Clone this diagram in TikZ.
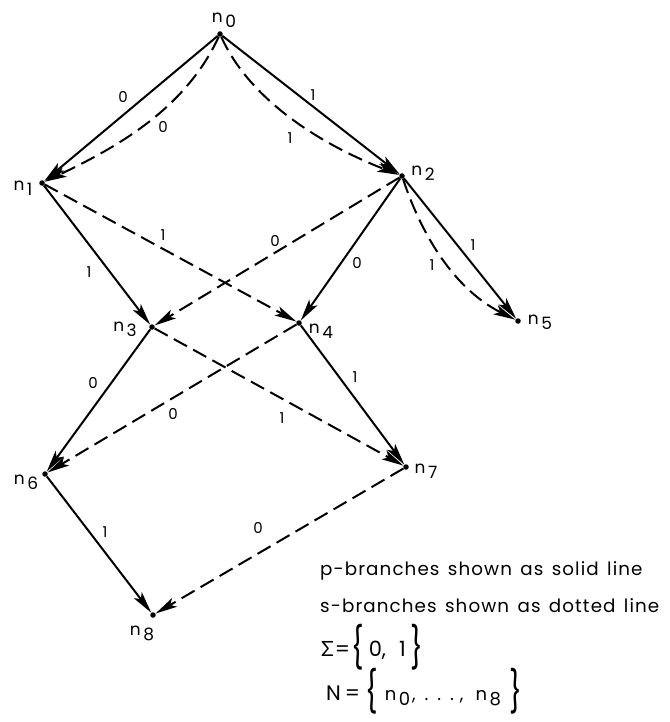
\documentclass[tikz,border=0pt]{standalone}
\usepackage{fontspec}
\setmainfont{Poppins}
\newfontfamily\grk{Lato}
\newfontfamily\widefont[LetterSpace=6,WordSpace=1.4]{Poppins}
\usetikzlibrary{arrows.meta}
\newcommand\nsub[1]{n\kern2.5pt\raisebox{-5pt}{#1}}
\newcommand\tallbrace[1]{\raisebox{-6pt}{\scalebox{1.3}[1.95]{#1}}}
\tikzset{
  dot/.style={circle,fill,inner sep=0pt,minimum size=5.5pt},
  pedge/.style={line width=2pt,-{Stealth[length=22pt,width=10pt,inset=5pt]}},
  sedge/.style={pedge,dash pattern=on 15pt off 7pt},
  lbl/.style={font=\fontsize{15}{15}\selectfont,inner sep=0pt},
  nlbl/.style={font=\fontsize{17}{17}\selectfont,inner sep=0pt},
  legend/.style={font=\widefont\fontsize{18.3}{18.3}\selectfont,inner sep=0pt,anchor=base west},
  legendm/.style={font=\fontsize{21}{21}\selectfont,inner sep=0pt,anchor=base west},
}
\begin{document}
\begin{tikzpicture}[x=1pt,y=-1pt]
\useasboundingbox (0,0) rectangle (669,722);
% nodes
\node[dot] (n0) at (220,34) {};
\node[dot] (n1) at (42,183) {};
\node[dot] (n2) at (402,176) {};
\node[dot] (n3) at (152,327) {};
\node[dot] (n4) at (299,323) {};
\node[dot] (n5) at (518,321) {};
\node[dot] (n6) at (45,474) {};
\node[dot] (n7) at (406,467) {};
\node[dot] (n8) at (153,615) {};
% node labels
\node[nlbl] (t0) at (224,20) {\nsub{0}};
\node[nlbl] (t1) at (23,188) {\nsub{1}};
\node[nlbl] (t2) at (423,173) {\nsub{2}};
\node[nlbl] (t3) at (125,329) {\nsub{3}};
\node[nlbl] (t4) at (321,331) {\nsub{4}};
\node[nlbl] (t5) at (540,322) {\nsub{5}};
\node[nlbl] (t6) at (26,482) {\nsub{6}};
\node[nlbl] (t7) at (426,471) {\nsub{7}};
\node[nlbl] (t8) at (142,633) {\nsub{8}};
% p-branches (solid)
\draw[pedge] (n0) -- (n1);
\draw[pedge] (n0) -- (n2);
\draw[pedge] (n2) -- (n5);
\draw[pedge] (n1) -- (n3);
\draw[pedge] (n2) -- (n4);
\draw[pedge] (n3) -- (n6);
\draw[pedge] (n4) -- (n7);
\draw[pedge] (n6) -- (n8);
% s-branches (dashed)
\draw[sedge] (n0) .. controls (185,110) and (115,148) .. (n1);
\draw[sedge] (n0) .. controls (252,105) and (330,148) .. (n2);
\draw[sedge] (n2) .. controls (425,245) and (460,292) .. (n5);
\draw[sedge] (n1) -- (n4);
\draw[sedge] (n2) -- (n3);
\draw[sedge] (n3) -- (n7);
\draw[sedge] (n4) -- (n6);
\draw[sedge] (n7) -- (n8);
% edge labels
\node[lbl] (a1) at (123,97) {0};
\node[lbl] (a2) at (163,127) {0};
\node[lbl] (a3) at (313,95) {1};
\node[lbl] (a4) at (290,138) {1};
\node[lbl] (a5) at (473,245) {1};
\node[lbl] (a6) at (432,265) {1};
\node[lbl] (a7) at (89,272) {1};
\node[lbl] (a8) at (163,235) {1};
\node[lbl] (a9) at (275,241) {0};
\node[lbl] (a10) at (357,263) {0};
\node[lbl] (a11) at (93,383) {0};
\node[lbl] (a12) at (173,414) {0};
\node[lbl] (a13) at (282,418) {1};
\node[lbl] (a14) at (355,377) {1};
\node[lbl] (a15) at (105,532) {1};
\node[lbl] (a16) at (258,528) {0};
% legend
\node[legend] (g1) at (320,575) {p-branches shown as solid line};
\node[legend] (g2) at (320,612) {s-branches shown as dotted line};
\node[legendm] (g3) at (321,656) {{\grk Σ}\kern1pt=\kern1pt\tallbrace\{\kern5pt 0,\kern13pt 1\kern5pt\tallbrace\}};
\node[legendm] (g4) at (326,700) {N\kern4pt=\kern5pt\tallbrace\{\kern7pt{\fontsize{18}{18}\selectfont\nsub{0}\kern2pt,\kern9pt.\kern9pt.\kern9pt.\kern6pt,\kern12pt\nsub{8}}\kern9pt\tallbrace\}};
\end{tikzpicture}
\end{document}
